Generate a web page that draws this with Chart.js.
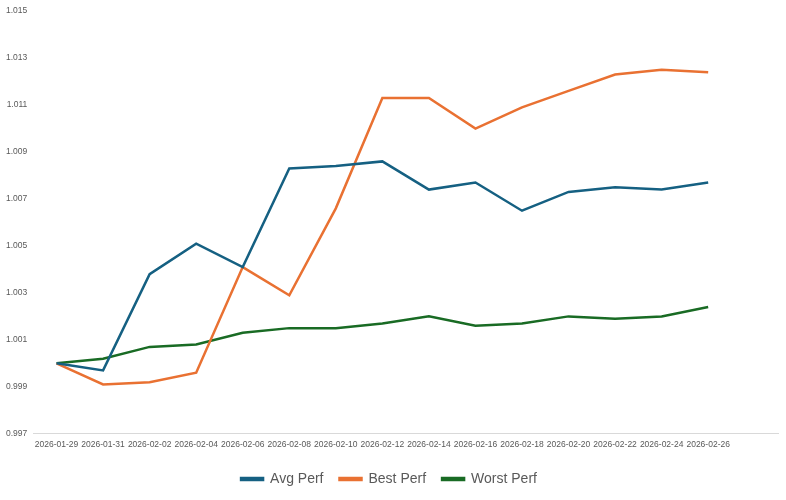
<!DOCTYPE html>
<html>
<head>
<meta charset="utf-8">
<script src="https://cdn.jsdelivr.net/npm/chart.js@4"></script>
<style>
  html, body { margin: 0; padding: 0; background: #fff; }
  #wrap { width: 786px; height: 500px; }
</style>
</head>
<body>
<div id="wrap"><canvas id="chart"></canvas></div>
<script>
// Chart data (last category slot is empty, like the source chart's trailing space)
const dates = ['2026-01-29', '2026-01-31', '2026-02-02', '2026-02-04', '2026-02-06', '2026-02-08', '2026-02-10',
    '2026-02-12', '2026-02-14', '2026-02-16', '2026-02-18', '2026-02-20', '2026-02-22', '2026-02-24', '2026-02-26', ''];
const avgPerf = [1.0000, 0.9997, 1.0038, 1.0051, 1.0041, 1.0083, 1.0084, 1.0086, 1.0074, 1.0077, 1.0065, 1.0073, 1.0075, 1.0074, 1.0077];
const bestPerf = [1.0000, 0.9991, 0.9992, 0.9996, 1.0041, 1.0029, 1.0066, 1.0113, 1.0113, 1.0100, 1.0109, 1.0116, 1.0123, 1.0125, 1.0124];
const worstPerf = [1.0000, 1.0002, 1.0007, 1.0008, 1.0013, 1.0015, 1.0015, 1.0017, 1.0020, 1.0016, 1.0017, 1.0020, 1.0019, 1.0020, 1.0024];
const yTicks = [0.997, 0.999, 1.001, 1.003, 1.005, 1.007, 1.009, 1.011, 1.013, 1.015];

const ctx = document.getElementById('chart').getContext('2d');
new Chart(ctx, {
    type: 'line',
    data: {
        labels: dates,
        datasets: [
            { label: 'Avg Perf', data: avgPerf, borderColor: '#156082', backgroundColor: '#156082' },
            { label: 'Best Perf', data: bestPerf, borderColor: '#E97132', backgroundColor: '#E97132' },
            { label: 'Worst Perf', data: worstPerf, borderColor: '#196B24', backgroundColor: '#196B24' }
        ]
    },
    options: {
        responsive: true,
        maintainAspectRatio: false,
        animation: false,
        layout: { padding: { left: 0, right: 8, top: 6, bottom: 4 } },
        elements: {
            line: { borderWidth: 2.5, tension: 0 },
            point: { radius: 0 }
        },
        plugins: {
            legend: {
                position: 'bottom',
                labels: {
                    font: { family: 'Liberation Sans', size: 14 },
                    color: '#595959',
                    boxWidth: 22,
                    boxHeight: 2,
                    padding: 16
                }
            },
            tooltip: { enabled: false }
        },
        scales: {
            x: {
                offset: true,
                grid: { display: false, drawTicks: false },
                border: { color: '#d9d9d9' },
                ticks: {
                    autoSkip: false, maxRotation: 0, minRotation: 0,
                    color: '#595959', padding: 6,
                    font: { family: 'Liberation Sans', size: 8.5 }
                }
            },
            y: {
                min: 0.997, max: 1.015,
                afterBuildTicks: axis => { axis.ticks = yTicks.map(v => ({ value: v })); },
                grid: { display: false, drawTicks: false },
                border: { display: false },
                ticks: {
                    color: '#595959', padding: 6,
                    font: { family: 'Liberation Sans', size: 8.5 },
                    callback: v => v.toFixed(3)
                }
            }
        }
    }
});
</script>
</body>
</html>
